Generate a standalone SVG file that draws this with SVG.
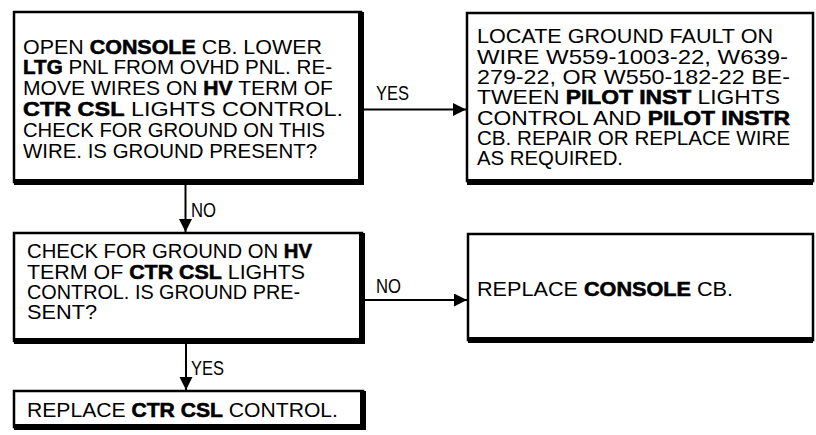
<svg xmlns="http://www.w3.org/2000/svg" width="816" height="435" viewBox="0 0 816 435">
  <style>
    text { font-family: "Liberation Sans", Arial, Helvetica, sans-serif; font-size: 21px; fill: #000; }
    .b { font-weight: 700; stroke: #000; stroke-width: 0.6; }
    .box { fill: #fff; stroke: #000; stroke-width: 2.5; }
    .shadow { fill: none; stroke: #000; stroke-width: 6; stroke-linejoin: miter; }
    .conn { fill: none; stroke: #000; stroke-width: 2; }
  </style>
  <defs>
    <marker id="arrow" markerUnits="userSpaceOnUse" markerWidth="14" markerHeight="14" refX="13" refY="6.5" orient="auto">
      <path d="M0,0 L13,6.5 L0,13 z" fill="#000"/>
    </marker>
  </defs>
  <rect width="816" height="435" fill="#fff"/>

  <g id="node-open-console">
    <rect class="box" x="14" y="12" width="347" height="170"/>
    <path class="shadow" d="M361 12 V182 H14"/>
    <text x="23" y="53.5" textLength="299" lengthAdjust="spacingAndGlyphs">OPEN <tspan class="b">CONSOLE</tspan> CB. LOWER</text>
    <text x="23" y="74.3" textLength="309" lengthAdjust="spacingAndGlyphs"><tspan class="b">LTG</tspan> PNL FROM OVHD PNL. RE-</text>
    <text x="23" y="95.1" textLength="310" lengthAdjust="spacingAndGlyphs">MOVE WIRES ON <tspan class="b">HV</tspan> TERM OF</text>
    <text x="23" y="115.9" textLength="320" lengthAdjust="spacingAndGlyphs"><tspan class="b">CTR CSL</tspan> LIGHTS CONTROL.</text>
    <text x="23" y="136.7" textLength="302" lengthAdjust="spacingAndGlyphs">CHECK FOR GROUND ON THIS</text>
    <text x="23" y="157.5" textLength="294" lengthAdjust="spacingAndGlyphs">WIRE. IS GROUND PRESENT?</text>
  </g>

  <g id="node-locate-fault">
    <rect class="box" x="467" y="13" width="346" height="168"/>
    <path class="shadow" d="M467 182 H813"/>
    <text x="477" y="43.3" textLength="296" lengthAdjust="spacingAndGlyphs">LOCATE GROUND FAULT ON</text>
    <text x="477" y="63.6" textLength="311" lengthAdjust="spacingAndGlyphs">WIRE W559-1003-22, W639-</text>
    <text x="477" y="83.9" textLength="313" lengthAdjust="spacingAndGlyphs">279-22, OR W550-182-22 BE-</text>
    <text x="477" y="104.2" textLength="303" lengthAdjust="spacingAndGlyphs">TWEEN <tspan class="b">PILOT INST</tspan> LIGHTS</text>
    <text x="477" y="124.5" textLength="313" lengthAdjust="spacingAndGlyphs">CONTROL AND <tspan class="b">PILOT INSTR</tspan></text>
    <text x="477" y="144.8" textLength="313" lengthAdjust="spacingAndGlyphs">CB. REPAIR OR REPLACE WIRE</text>
    <text x="477" y="165.1" textLength="146" lengthAdjust="spacingAndGlyphs">AS REQUIRED.</text>
  </g>

  <g id="node-check-hv">
    <rect class="box" x="14" y="233" width="348" height="108"/>
    <path class="shadow" d="M362 233 V341 H14"/>
    <text x="27" y="258.3" textLength="285" lengthAdjust="spacingAndGlyphs">CHECK FOR GROUND ON <tspan class="b">HV</tspan></text>
    <text x="27" y="278.6" textLength="278" lengthAdjust="spacingAndGlyphs">TERM OF <tspan class="b">CTR CSL</tspan> LIGHTS</text>
    <text x="27" y="298.9" textLength="273" lengthAdjust="spacingAndGlyphs">CONTROL. IS GROUND PRE-</text>
    <text x="27" y="319.2" textLength="70" lengthAdjust="spacingAndGlyphs">SENT?</text>
  </g>

  <g id="node-replace-console">
    <rect class="box" x="468" y="234" width="345" height="106"/>
    <path class="shadow" d="M468 340 H813"/>
    <text x="477" y="296" textLength="256" lengthAdjust="spacingAndGlyphs">REPLACE <tspan class="b">CONSOLE</tspan> CB.</text>
  </g>

  <g id="node-replace-ctr">
    <rect class="box" x="14" y="391" width="349" height="36"/>
    <path class="shadow" d="M363 391 V427 H14"/>
    <text x="27" y="417" textLength="311" lengthAdjust="spacingAndGlyphs">REPLACE <tspan class="b">CTR CSL</tspan> CONTROL.</text>
  </g>

  <g id="connectors">
    <line class="conn" x1="364" y1="109.5" x2="466" y2="109.5" marker-end="url(#arrow)"/>
    <line class="conn" x1="185.5" y1="185" x2="185.5" y2="232" marker-end="url(#arrow)"/>
    <line class="conn" x1="365" y1="300" x2="467" y2="300" marker-end="url(#arrow)"/>
    <line class="conn" x1="186" y1="344" x2="186" y2="390" marker-end="url(#arrow)"/>
    <text x="376" y="100" textLength="33" lengthAdjust="spacingAndGlyphs">YES</text>
    <text x="191" y="217" textLength="25" lengthAdjust="spacingAndGlyphs">NO</text>
    <text x="376" y="293" textLength="25" lengthAdjust="spacingAndGlyphs">NO</text>
    <text x="191" y="375" textLength="33" lengthAdjust="spacingAndGlyphs">YES</text>
  </g>
</svg>
